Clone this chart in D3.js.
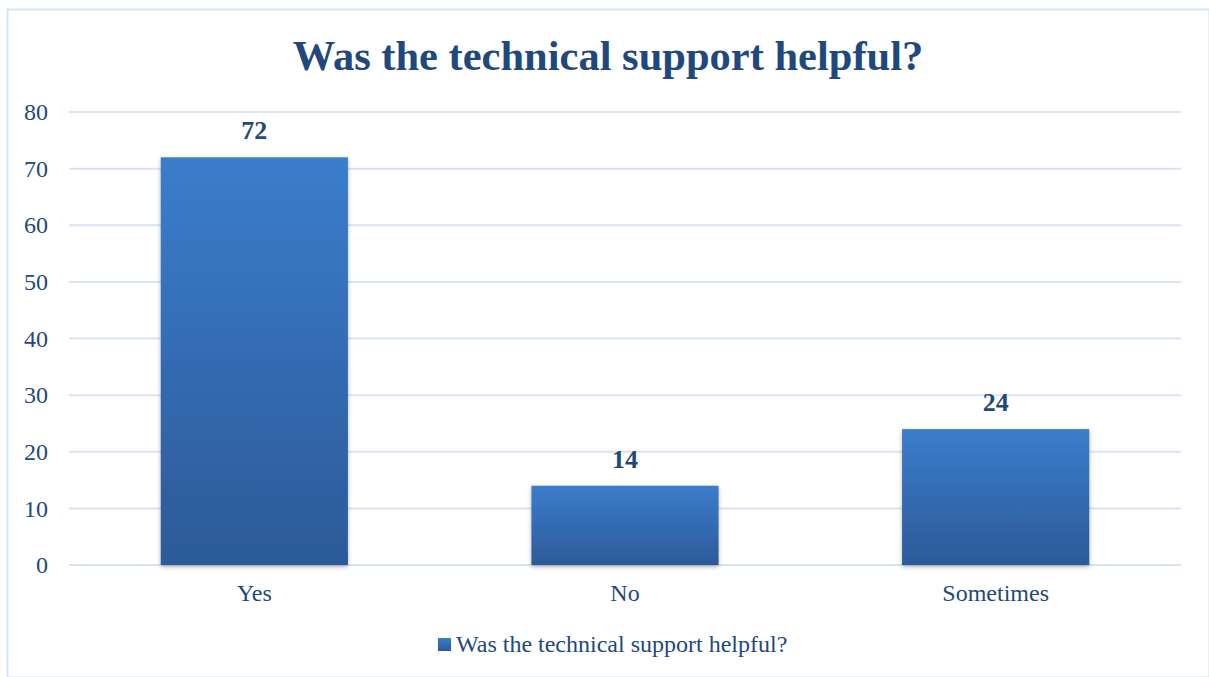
<!DOCTYPE html>
<html>
<head>
<meta charset="utf-8">
<script src="https://cdn.jsdelivr.net/npm/d3@7"></script>
<style>
  html, body { margin:0; padding:0; background:#fff; }
  svg { display:block; font-family:"Liberation Serif","Times New Roman",serif; }
</style>
</head>
<body>
<div id="chart"></div>
<script>
// data
const categories = ["Yes", "No", "Sometimes"];
const values = [72, 14, 24];
const yTicks = [0, 10, 20, 30, 40, 50, 60, 70, 80];
const seriesName = "Was the technical support helpful?";
const titleText = "Was the technical support helpful?";

const W = 1209, H = 677;
const MG = {t:112, r:28, b:112, l:69};
const TXT = "#1f497d";
const SERIF = "'Liberation Serif','Times New Roman',serif";

const svg = d3.select("#chart").append("svg").attr("width", W).attr("height", H);

// gradient + shadow
const defs = svg.append("defs");
const grad = defs.append("linearGradient").attr("id","barGrad")
  .attr("x1",0).attr("y1",0).attr("x2",0).attr("y2",1);
grad.append("stop").attr("offset","0%").attr("stop-color","#3b7dcc");
grad.append("stop").attr("offset","100%").attr("stop-color","#2c5a98");
const sh = defs.append("filter").attr("id","shadow").attr("x","-10%").attr("y","-10%").attr("width","120%").attr("height","120%");
sh.append("feDropShadow").attr("dx",0).attr("dy",2).attr("stdDeviation",2).attr("flood-color","#000").attr("flood-opacity",0.3);

// outer border
svg.append("rect").attr("x",7.5).attr("y",9.5).attr("width",W-7).attr("height",H-9)
  .attr("fill","none").attr("stroke","#d6e3f2").attr("stroke-width",2);

const iW = W - MG.l - MG.r, iH = H - MG.t - MG.b;
const g = svg.append("g").attr("transform",`translate(${MG.l},${MG.t})`);

const x = d3.scaleBand().domain(categories).range([0, iW]).paddingInner(0.495).paddingOuter(0.2475);
const y = d3.scaleLinear().domain([0, 80]).range([iH, 0]);

// gridlines
g.selectAll(".grid").data(yTicks).join("line")
  .attr("x1",0).attr("x2",iW).attr("y1",d=>y(d)).attr("y2",d=>y(d))
  .attr("stroke","#d9e4f2").attr("stroke-width",2);

// y axis labels
const yAx = g.append("g").call(d3.axisLeft(y).tickValues(yTicks).tickSize(0).tickPadding(21));
yAx.select(".domain").remove();
yAx.selectAll("text").attr("fill",TXT).attr("font-size",24).attr("font-family",SERIF);

// bars
g.selectAll(".bar").data(values).join("rect")
  .attr("x",(d,i)=>x(categories[i])).attr("width",x.bandwidth())
  .attr("y",d=>y(d)).attr("height",d=>iH - y(d))
  .attr("fill","url(#barGrad)").attr("filter","url(#shadow)");

// value labels
g.selectAll(".val").data(values).join("text")
  .attr("x",(d,i)=>x(categories[i]) + x.bandwidth()/2)
  .attr("y",d=>y(d) - 18)
  .attr("text-anchor","middle").attr("fill",TXT)
  .attr("font-size",26).attr("font-weight","bold").text(d=>d);

// x axis labels
const xAx = g.append("g").attr("transform",`translate(0,${iH})`)
  .call(d3.axisBottom(x).tickSize(0).tickPadding(19));
xAx.select(".domain").remove();
xAx.selectAll("text").attr("fill",TXT).attr("font-size",24).attr("font-family",SERIF);

// title
svg.append("text").attr("x",608).attr("y",70).attr("text-anchor","middle")
  .attr("fill",TXT).attr("font-size",42.5).attr("font-weight","bold").text(titleText);

// legend
const lg = svg.append("g").attr("transform","translate(438,652)");
lg.append("rect").attr("x",0).attr("y",-14).attr("width",13).attr("height",13).attr("fill","url(#barGrad)");
lg.append("text").attr("x",18).attr("y",0)
  .attr("fill",TXT).attr("font-size",24).text(seriesName);
</script>
</body>
</html>
